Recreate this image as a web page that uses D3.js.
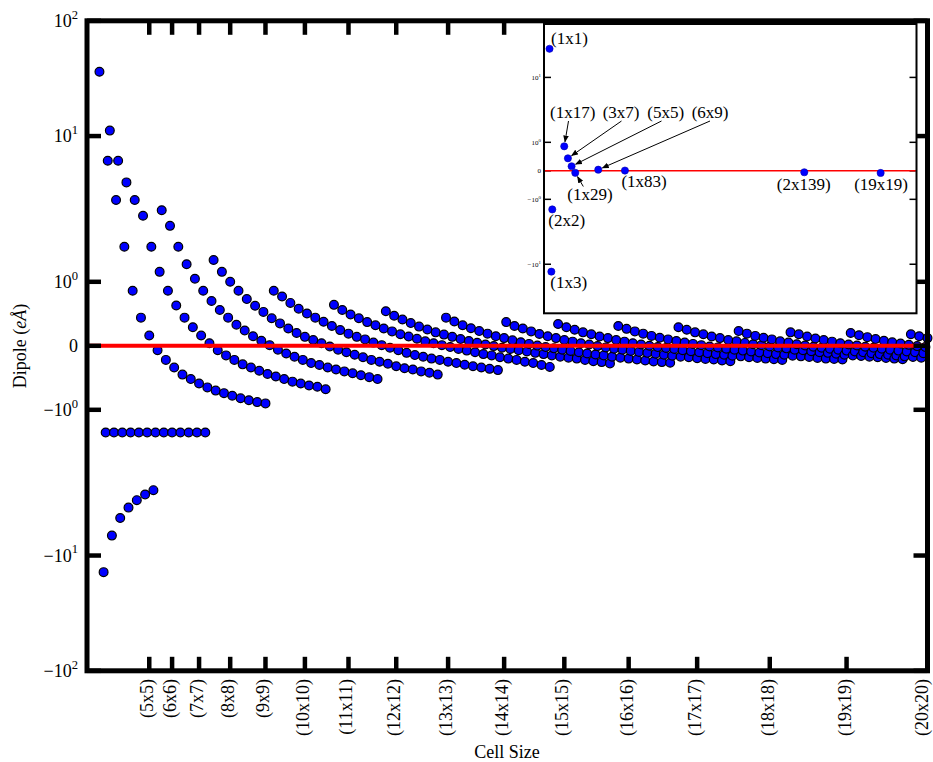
<!DOCTYPE html>
<html>
<head>
<meta charset="utf-8">
<script src="https://cdn.jsdelivr.net/npm/d3@7"></script>
<style>
  body { margin: 0; background: #fff; }
  svg { display: block; }
  text { font-family: "Liberation Serif", "Times New Roman", serif; fill: #000; }
</style>
</head>
<body>
<svg id="chart" width="933" height="762"></svg>
<script>
// ---- data: dipole per supercell, grouped into runs of cell areas (step 4) ----
const areaStep = 4;
const segmentStarts = [1, 3, 4, 6, 31, 56, 85, 114, 139, 168, 197, 222, 251, 280, 309, 334, 363, 392];

const run01 = [27.6, 6.77, 3.64, 1.74, 0.86, 0.44, 0.16, -0.07, -0.22, -0.34, -0.45, -0.52, -0.59, -0.65, -0.70, -0.74, -0.78, -0.82, -0.85, -0.88, -0.90];
const run02 = [-13.0, -7.3, -5.53, -4.69, -4.17, -3.81, -3.56];
const run03 = [-1.43, -1.43, -1.43, -1.43, -1.43, -1.43, -1.43, -1.43, -1.43, -1.43, -1.43, -1.43, -1.43];
const run04 = [10.9, 6.77, 4.81, 3.64, 2.84, 1.74, 1.17, 0.86, 0.63, 0.44, 0.29, 0.16, 0.04, -0.07, -0.15, -0.22, -0.29, -0.34, -0.39, -0.44, -0.48, -0.52, -0.56, -0.59, -0.62, -0.64, -0.68];
const run05 = [3.10, 2.42, 1.74, 1.32, 1.05, 0.86, 0.70, 0.56, 0.44, 0.33, 0.24, 0.15, 0.08, 0.01, -0.06, -0.12, -0.17, -0.22, -0.27, -0.30, -0.34, -0.37, -0.40, -0.43, -0.46, -0.49, -0.52];
const run06 = [1.41, 1.17, 1.00, 0.86, 0.73, 0.625, 0.53, 0.43, 0.35, 0.27, 0.20, 0.14, 0.09, 0.04, -0.01, -0.06, -0.10, -0.14, -0.18, -0.22, -0.25, -0.28, -0.32, -0.35, -0.37, -0.40, -0.42, -0.45];
const run07 = [0.86, 0.77, 0.67, 0.58, 0.505, 0.44, 0.375, 0.31, 0.245, 0.19, 0.14, 0.10, 0.05, 0.01, -0.03, -0.07, -0.11, -0.145, -0.17, -0.20, -0.22, -0.25, -0.27, -0.295, -0.32, -0.34, -0.36, -0.38];
const run08 = [0.64, 0.56, 0.49, 0.43, 0.37, 0.32, 0.27, 0.225, 0.18, 0.145, 0.11, 0.07, 0.04, 0.01, -0.02, -0.05, -0.075, -0.10, -0.13, -0.15, -0.18, -0.20, -0.22, -0.25, -0.27, -0.30, -0.33];
const run09 = [0.54, 0.47, 0.41, 0.355, 0.30, 0.255, 0.21, 0.175, 0.14, 0.105, 0.075, 0.047, 0.02, -0.005, -0.03, -0.05, -0.07, -0.09, -0.11, -0.13, -0.15, -0.17, -0.185, -0.20, -0.22, -0.24, -0.255, -0.275];
const run10 = [0.44, 0.38, 0.32, 0.275, 0.23, 0.19, 0.15, 0.12, 0.085, 0.056, 0.03, 0.003, -0.02, -0.04, -0.06, -0.08, -0.10, -0.12, -0.135, -0.15, -0.17, -0.185, -0.20, -0.215, -0.23, -0.245, -0.255, -0.265];
const run11 = [0.37, 0.31, 0.27, 0.225, 0.185, 0.15, 0.12, 0.09, 0.065, 0.04, 0.02, -0.005, -0.025, -0.045, -0.06, -0.08, -0.095, -0.11, -0.125, -0.14, -0.155, -0.17, -0.18, -0.195, -0.205, -0.215, -0.23, -0.24];
const run12 = [0.34, 0.29, 0.25, 0.21, 0.18, 0.145, 0.12, 0.09, 0.065, 0.04, 0.02, 0.0, -0.02, -0.035, -0.05, -0.07, -0.085, -0.10, -0.115, -0.13, -0.14, -0.155, -0.165, -0.18, -0.19, -0.20, -0.21, -0.22];
const run13 = [0.31, 0.265, 0.225, 0.19, 0.155, 0.125, 0.10, 0.075, 0.05, 0.03, 0.01, -0.01, -0.025, -0.045, -0.06, -0.075, -0.09, -0.105, -0.115, -0.13, -0.14, -0.155, -0.165, -0.175, -0.19, -0.20, -0.205, -0.215];
const run14 = [0.29, 0.25, 0.21, 0.18, 0.145, 0.12, 0.09, 0.07, 0.045, 0.025, 0.01, -0.01, -0.025, -0.04, -0.06, -0.07, -0.085, -0.10, -0.11, -0.125, -0.14, -0.15, -0.16, -0.17, -0.18, -0.19, -0.20, -0.21];
const run15 = [0.23, 0.19, 0.155, 0.125, 0.10, 0.07, 0.05, 0.025, 0.005, -0.015, -0.03, -0.045, -0.06, -0.075, -0.09, -0.10, -0.115, -0.13, -0.14, -0.15, -0.165, -0.175, -0.185];
const run16 = [0.21, 0.18, 0.145, 0.115, 0.09, 0.065, 0.04, 0.02, 0.005, -0.015, -0.03, -0.045, -0.06, -0.075, -0.09, -0.10, -0.115];
const run17 = [0.20, 0.165, 0.135, 0.105, 0.08, 0.055, 0.035, 0.015, -0.005, -0.02];
const run18 = [0.18, 0.15, 0.12];

const runs = [run01, run02, run03, run04, run05, run06, run07, run08, run09,
              run10, run11, run12, run13, run14, run15, run16, run17, run18];

// x axis: square cells
const xTickAreas  = [25, 36, 49, 64, 81, 100, 121, 144, 169, 196, 225, 256, 289, 324, 361, 400];
const xTickLabels = ["(5x5)", "(6x6)", "(7x7)", "(8x8)", "(9x9)", "(10x10)", "(11x11)", "(12x12)",
                     "(13x13)", "(14x14)", "(15x15)", "(16x16)", "(17x17)", "(18x18)", "(19x19)", "(20x20)"];

// y axis (symmetric log, linear between -1 and 1)
const yEdge = 61.8;
const yTickValues = [-yEdge, -10, -1, 0, 1, 10, yEdge];
const yTickLabels = ["\u221210^2", "\u221210^1", "\u221210^0", "0", "10^0", "10^1", "10^2"];

// inset: highlighted cells
const insetCellLabels = ["(1x1)", "(1x3)", "(2x2)", "(1x17)", "(3x7)", "(5x5)", "(1x29)", "(6x9)", "(1x83)", "(2x139)", "(19x19)"];
const insetCellAreas  = [1, 3, 4, 17, 21, 25, 29, 54, 83, 278, 361];
const insetTickValues = [-10, -1, 0, 1, 10];
const insetTickLabels = ["\u221210^1", "\u221210^0", "0", "10^0", "10^1"];

// ---- build point list ----
const points = [];
runs.forEach((run, k) => run.forEach((v, i) => points.push({ area: segmentStarts[k] + areaStep * i, value: v })));
points.sort((a, b) => a.area - b.area);
const valueByArea = new Map(points.map(p => [p.area, p.value]));

// ---- scales ----
const decade = 2.277;   // length of one decade relative to the linear band
const tf = v => Math.abs(v) <= 1 ? v : Math.sign(v) * (1 + decade * Math.log10(Math.abs(v)));

const W = 933, H = 762;
const plot = { left: 87, right: 927.5, top: 20.8, bottom: 670.8 };
const x = d3.scaleLinear().domain([-5, 400]).range([plot.left, plot.right]);
const yT = d3.scaleLinear().domain([tf(-yEdge), tf(yEdge)]).range([plot.bottom, plot.top]);
const y = v => yT(tf(v));

const svg = d3.select("#chart");
svg.append("rect").attr("width", W).attr("height", H).attr("fill", "#fff");

// ---- main scatter ----
svg.append("g").selectAll("circle").data(points).join("circle")
  .attr("cx", d => x(d.area)).attr("cy", d => y(d.value)).attr("r", 4.4)
  .attr("fill", "#0000ff").attr("stroke", "#000").attr("stroke-width", 1.2);

// zero line
svg.append("line").attr("x1", plot.left + 2).attr("x2", plot.right - 2)
  .attr("y1", y(0)).attr("y2", y(0)).attr("stroke", "#ff0000").attr("stroke-width", 4);

// ---- frame and ticks ----
const axisG = svg.append("g");
axisG.append("rect").attr("x", plot.left).attr("y", plot.top)
  .attr("width", plot.right - plot.left).attr("height", plot.bottom - plot.top)
  .attr("fill", "none").attr("stroke", "#000").attr("stroke-width", 5);

const tickLen = 14;
xTickAreas.forEach(a => {
  axisG.append("line").attr("x1", x(a)).attr("x2", x(a)).attr("y1", plot.bottom).attr("y2", plot.bottom - tickLen)
    .attr("stroke", "#000").attr("stroke-width", 4.5);
  axisG.append("line").attr("x1", x(a)).attr("x2", x(a)).attr("y1", plot.top).attr("y2", plot.top + tickLen)
    .attr("stroke", "#000").attr("stroke-width", 4.5);
});
yTickValues.forEach(v => {
  axisG.append("line").attr("x1", plot.left).attr("x2", plot.left + tickLen).attr("y1", y(v)).attr("y2", y(v))
    .attr("stroke", "#000").attr("stroke-width", 4.5);
  axisG.append("line").attr("x1", plot.right).attr("x2", plot.right - tickLen).attr("y1", y(v)).attr("y2", y(v))
    .attr("stroke", "#000").attr("stroke-width", 4.5);
});

// power-of-ten label with superscript exponent
function powerText(sel, label, size) {
  const parts = label.split("^");
  sel.append("tspan").text(parts[0]);
  if (parts.length > 1) {
    sel.append("tspan").attr("dy", -0.45 * size).attr("font-size", size * 0.7).text(parts[1]);
  }
}

yTickValues.forEach((v, i) => {
  const t = axisG.append("text").attr("x", 78).attr("y", y(v) + 6).attr("text-anchor", "end")
    .attr("font-size", 18);
  powerText(t, yTickLabels[i], 18);
});

// rotated tick labels; the last one is kept inside the page edge
xTickAreas.forEach((a, i) => {
  const lx = Math.min(x(a), W - 9);
  axisG.append("text").attr("transform", `translate(${lx},679) rotate(-90)`)
    .attr("text-anchor", "end").attr("dy", "0.22em").attr("font-size", 18).text(xTickLabels[i]);
});

// axis titles
svg.append("text").attr("x", 507).attr("y", 758).attr("text-anchor", "middle").attr("font-size", 18).text("Cell Size");
const yTitle = svg.append("text").attr("transform", "translate(26,346) rotate(-90)")
  .attr("text-anchor", "middle").attr("font-size", 18);
yTitle.append("tspan").text("Dipole (");
yTitle.append("tspan").attr("font-style", "italic").text("e\u00c5");
yTitle.append("tspan").text(")");

// ---- inset ----
const inset = { left: 544, right: 916.5, top: 24, bottom: 313.3 };
const xi = d3.scaleLinear().domain([-5, 400]).range([inset.left, inset.right]);
const yiT = d3.scaleLinear().domain([tf(-57), tf(66.5)]).range([inset.bottom, inset.top]);
const yi = v => yiT(tf(v));

const ig = svg.append("g");
ig.append("rect").attr("x", inset.left).attr("y", inset.top)
  .attr("width", inset.right - inset.left).attr("height", inset.bottom - inset.top)
  .attr("fill", "#fff").attr("stroke", "#000").attr("stroke-width", 2);

insetTickValues.forEach((v, i) => {
  ig.append("line").attr("x1", inset.left).attr("x2", inset.left + 7).attr("y1", yi(v)).attr("y2", yi(v))
    .attr("stroke", "#000").attr("stroke-width", 1.5);
  ig.append("line").attr("x1", inset.right).attr("x2", inset.right - 7).attr("y1", yi(v)).attr("y2", yi(v))
    .attr("stroke", "#000").attr("stroke-width", 1.5);
  const t = ig.append("text").attr("x", inset.left - 3).attr("y", yi(v) + 2.5)
    .attr("text-anchor", "end").attr("font-size", 7);
  powerText(t, insetTickLabels[i], 7);
});

ig.append("line").attr("x1", inset.left + 1).attr("x2", inset.right - 1)
  .attr("y1", yi(0)).attr("y2", yi(0)).attr("stroke", "#ff0000").attr("stroke-width", 1.5);

const insetPts = insetCellAreas.map((a, i) => ({ label: insetCellLabels[i], area: a, value: valueByArea.get(a) }));

ig.selectAll("circle.ip").data(insetPts).join("circle").attr("class", "ip")
  .attr("cx", d => xi(d.area)).attr("cy", d => yi(d.value)).attr("r", 3.6)
  .attr("fill", "#0000ff").attr("stroke", "#0000aa").attr("stroke-width", 0.6);

// label placement for the inset annotations
const insetLabelLayout = {
  "(1x1)":   { dx: 1.5, dy: -5 },
  "(1x3)":   { dx: -1, dy: 16 },
  "(2x2)":   { dx: -4, dy: 17 },
  "(1x83)":  { dx: -3.5, dy: 16.3 },
  "(2x139)": { dx: -27.5, dy: 17.8 },
  "(19x19)": { dx: -26.5, dy: 16.8 },
  "(1x17)":  { tx: 550,   ty: 117.5, sx: 568.5, sy: 121 },
  "(3x7)":   { tx: 602.7, ty: 117.5, sx: 621.5, sy: 121 },
  "(5x5)":   { tx: 647.3, ty: 117.5, sx: 661.5, sy: 121 },
  "(6x9)":   { tx: 691.7, ty: 117.5, sx: 710,   sy: 121 },
  "(1x29)":  { tx: 567.3, ty: 200,   sx: 583.3, sy: 186.5 }
};

svg.append("defs").append("marker").attr("id", "arrowHead")
  .attr("viewBox", "0 0 10 10").attr("refX", 9).attr("refY", 5)
  .attr("markerWidth", 7).attr("markerHeight", 7).attr("markerUnits", "userSpaceOnUse")
  .attr("orient", "auto")
  .append("path").attr("d", "M0,1 L10,5 L0,9 z").attr("fill", "#000");

insetPts.forEach(d => {
  const L = insetLabelLayout[d.label];
  const px = xi(d.area), py = yi(d.value);
  if (L.tx !== undefined) {
    const ang = Math.atan2(L.sy - py, L.sx - px);
    const ex = px + 4.5 * Math.cos(ang), ey = py + 4.5 * Math.sin(ang);
    ig.append("line").attr("x1", L.sx).attr("y1", L.sy).attr("x2", ex).attr("y2", ey)
      .attr("stroke", "#000").attr("stroke-width", 1).attr("marker-end", "url(#arrowHead)");
    ig.append("text").attr("x", L.tx).attr("y", L.ty).attr("font-size", 17).text(d.label);
  } else {
    ig.append("text").attr("x", px + L.dx).attr("y", py + L.dy).attr("font-size", 17).text(d.label);
  }
});
</script>
</body>
</html>
